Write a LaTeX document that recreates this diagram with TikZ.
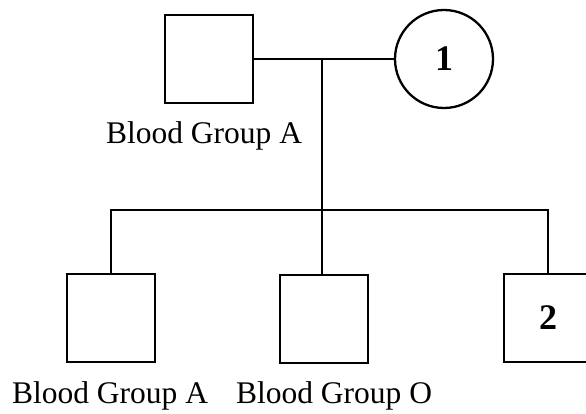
\documentclass[tikz,border=0pt]{standalone}
\usepackage{fontspec}
\setmainfont{Liberation Serif}
\tikzset{
  male/.style={draw, line width=2.3pt, rectangle, minimum size=88pt, inner sep=0pt},
  female/.style={draw, line width=2.3pt, circle, minimum size=98pt, inner sep=0pt},
  lbl/.style={anchor=base, inner sep=0pt, font=\fontsize{31.5}{36}\selectfont},
  num/.style={font=\fontsize{36}{42}\selectfont\bfseries}
}
\begin{document}
\begin{tikzpicture}[x=1pt,y=-1pt]
\useasboundingbox (0,0) rectangle (586,414);

\node[male] (father) at (209,59) {};
\node[female,num] (mother) at (444,59) {1};

\node[male] (kid1) at (111,318) {};
\node[male] (kid2) at (324,319) {};
\node[male,num] (kid3) at (548,318) {2};

\node[lbl] (lfather) at (204,144) {Blood Group A};
\node[lbl] (lkid1) at (110,403) {Blood Group A};
\node[lbl] (lkid2) at (334,403) {Blood Group O};

\coordinate (mate) at (322,59);
\coordinate (sib) at (322,210);

\draw[line width=2.3pt] (father.east) -- (mother.west);
\draw[line width=2.3pt] (mate) -- (mate |- kid2.north);
\draw[line width=2.3pt] (kid1.north) -- (kid1 |- sib) -- (kid3 |- sib) -- (kid3.north);
\end{tikzpicture}
\end{document}
